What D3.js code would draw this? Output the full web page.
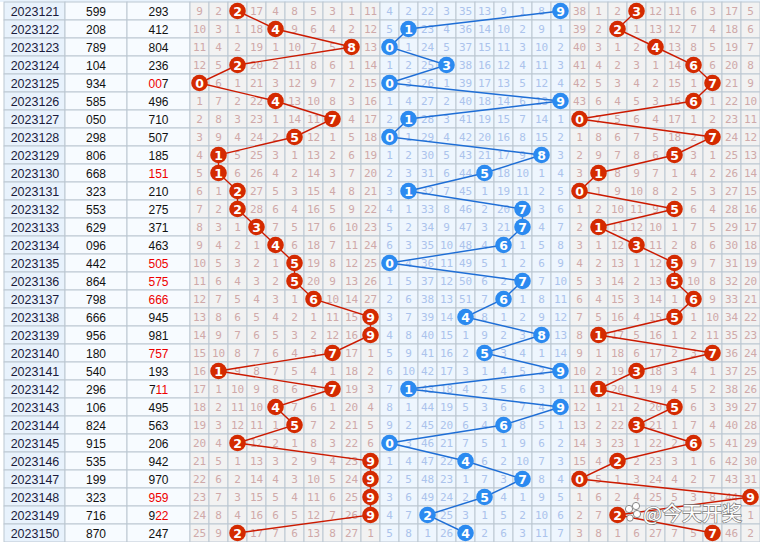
<!DOCTYPE html>
<html><head><meta charset="utf-8">
<script src="https://cdn.jsdelivr.net/npm/d3@7"></script>
<style>body{margin:0;background:#fff}svg{display:block}</style></head>
<body>
<svg id="c" width="760" height="542"></svg>
<script>
// ---- data ----
const issues = ["2023121","2023122","2023123","2023124","2023125","2023126","2023127","2023128","2023129","2023130",
"2023131","2023132","2023133","2023134","2023135","2023136","2023137","2023138","2023139","2023140",
"2023141","2023142","2023143","2023144","2023145","2023146","2023147","2023148","2023149","2023150"];
const numbersA = ["599","208","789","104","934","585","050","298","806","668",
"323","553","629","096","442","864","798","666","956","180",
"540","296","106","824","915","535","199","323","716","870"];
const numbersB = ["293","412","804","236","007","496","710","507","185","151",
"210","275","371","463","505","575","666","945","981","757",
"193","711","495","563","206","942","970","959","922","247"];
const redMask = ["000","000","000","000","110","000","000","000","000","111",
"000","000","000","000","111","111","111","000","000","111",
"000","011","000","000","000","000","000","111","011","000"];
// omission counts shown on the first row (0 = drawn digit)
const firstMissHundreds = [9,2,0,17,4,8,5,3,1,11];
const firstMissTens     = [4,2,22,3,35,13,9,1,8,0];
const firstMissUnits    = [38,1,2,0,12,11,6,3,17,5];
const digitsLabels = [0,1,2,3,4,5,6,7,8,9];

// ---- build omission tables from the draw digits ----
function missTable(first, pos){
  const rows=[first.slice()];
  for(let i=1;i<numbersB.length;i++){
    const d=+numbersB[i][pos];
    rows.push(rows[i-1].map((v,k)=>k===d?0:v+1));
  }
  return rows;
}
const groups=[
  {pos:0, first:firstMissHundreds, x0:190, bg:"#f2f2f2", txt:"#cfa9a9", ball:"#d42a00", line:"#cc1a00"},
  {pos:1, first:firstMissTens,     x0:380, bg:"#eef6fe", txt:"#abc3ec", ball:"#2b8af0", line:"#1e6ed6"},
  {pos:2, first:firstMissUnits,    x0:570, bg:"#f2f2f2", txt:"#cfa9a9", ball:"#d42a00", line:"#cc1a00"}
];

const svg=d3.select("#c");
const y=d3.scaleBand().domain(issues).range([2,542]);
const rh=y.bandwidth();
const grid="#bcc7d2";

// left columns
const leftCols=[{x0:4,x1:65,bg:"#e8f2fc"},{x0:65,x1:127,bg:"#f7fbff"},{x0:127,x1:190,bg:"#f7fbff"}];
svg.append("rect").attr("x",0).attr("y",0).attr("width",760).attr("height",2).attr("fill","#e8f2fc");
leftCols.forEach((c,ci)=>{
  svg.append("g").selectAll("rect").data(issues).join("rect")
    .attr("x",c.x0).attr("y",d=>y(d)).attr("width",c.x1-c.x0).attr("height",rh)
    .attr("fill",c.bg).attr("stroke",grid).attr("stroke-width",1);
});
svg.append("g").selectAll("text").data(issues).join("text")
  .attr("x",35).attr("y",d=>y(d)+rh/2+4.5).attr("text-anchor","middle")
  .attr("font-family","Liberation Sans, Arial, sans-serif").attr("font-size",12.5).attr("fill","#1c1c3c").text(d=>d);
svg.append("g").selectAll("text").data(numbersA).join("text")
  .attr("x",96).attr("y",(d,i)=>y(issues[i])+rh/2+4.5).attr("text-anchor","middle")
  .attr("font-family","Liberation Sans, Arial, sans-serif").attr("font-size",12).attr("fill","#111").text(d=>d);
const tb=svg.append("g").selectAll("text").data(numbersB).join("text")
  .attr("x",158.5).attr("y",(d,i)=>y(issues[i])+rh/2+4.5).attr("text-anchor","middle")
  .attr("font-family","Liberation Sans, Arial, sans-serif").attr("font-size",12);
tb.each(function(d,i){
  const t=d3.select(this);
  d.split("").forEach((ch,k)=>{
    t.append("tspan").attr("fill",redMask[i][k]==="1"?"#ee0000":"#111").text(ch);
  });
});

// trend groups
groups.forEach(g=>{
  const x=d3.scaleBand().domain(digitsLabels).range([g.x0,g.x0+190]);
  const cw=x.bandwidth();
  const rows=missTable(g.first,g.pos);
  const cells=[];
  rows.forEach((r,i)=>r.forEach((v,k)=>cells.push({i,k,v})));
  const G=svg.append("g");
  G.selectAll("rect").data(cells).join("rect")
    .attr("x",d=>x(d.k)).attr("y",d=>y(issues[d.i])).attr("width",cw).attr("height",rh)
    .attr("fill",g.bg).attr("stroke",grid).attr("stroke-width",1);
  G.selectAll("text").data(cells.filter(d=>d.v>0)).join("text")
    .attr("x",d=>x(d.k)+cw/2).attr("y",d=>y(issues[d.i])+rh/2+4)
    .attr("text-anchor","middle").attr("font-family","DejaVu Sans Mono, monospace")
    .attr("font-size",11).attr("fill",g.txt).text(d=>d.v);
  g.x=x; g.cw=cw;
});
groups.forEach(g=>{
  const pts=numbersB.map((n,i)=>[g.x(+n[g.pos])+g.cw/2, y(issues[i])+rh/2]);
  svg.append("path").attr("d",d3.line()(pts)).attr("fill","none")
    .attr("stroke",g.line).attr("stroke-width",1.4);
});
groups.forEach(g=>{
  const B=svg.append("g");
  numbersB.forEach((n,i)=>{
    const d=+n[g.pos];
    const cx=g.x(d)+g.cw/2, cy=y(issues[i])+rh/2;
    B.append("circle").attr("cx",cx).attr("cy",cy).attr("r",8.3).attr("fill",g.ball);
    B.append("text").attr("x",cx).attr("y",cy+4.5).attr("text-anchor","middle")
      .attr("font-family","DejaVu Sans, sans-serif").attr("font-size",12.5).attr("font-weight","bold")
      .attr("fill","#fff").text(d);
  });
});

// watermark
const wm=svg.append("g");
[[629,509,3.6],[636,506,3.6],[637,514,3.6],[630,518,3.2]].forEach(c=>{
  wm.append("circle").attr("cx",c[0]).attr("cy",c[1]).attr("r",c[2]).attr("fill","#fff").attr("stroke","#888").attr("stroke-width",1);
});
wm.append("text").attr("x",643).attr("y",521).attr("font-family","Noto Sans CJK SC, sans-serif")
  .attr("font-size",20).attr("fill","#fff").attr("stroke","#777").attr("stroke-width",1.3)
  .attr("paint-order","stroke").text("@今天开奖");
</script>
</body></html>
